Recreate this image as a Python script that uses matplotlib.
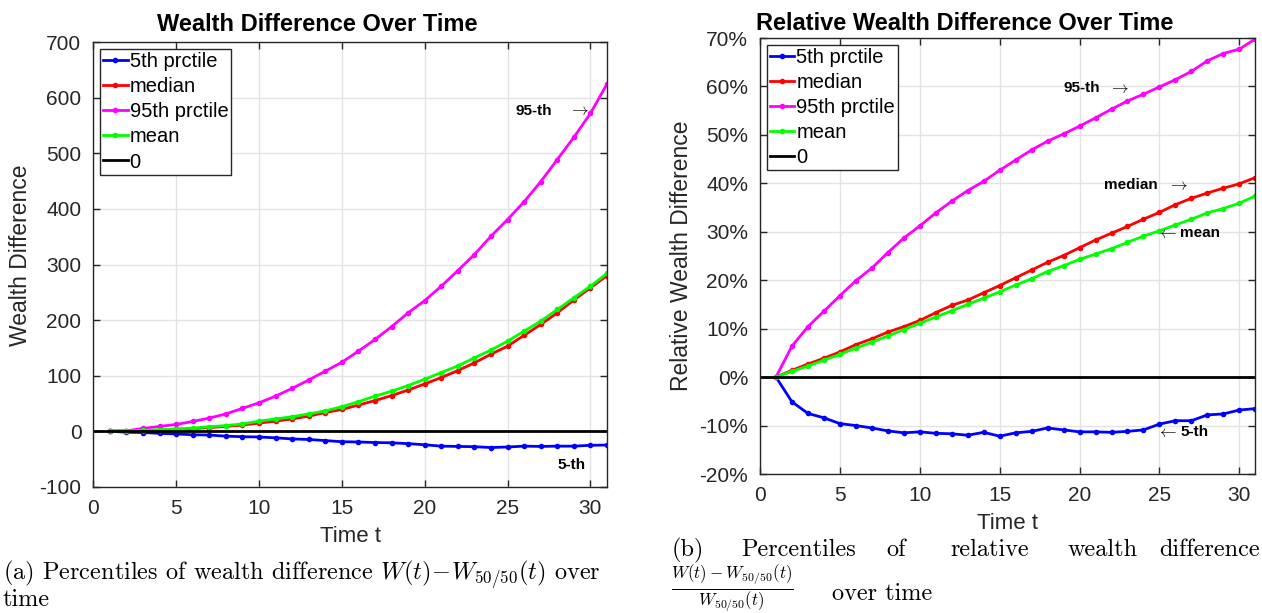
import matplotlib
matplotlib.use('Agg')
import matplotlib.pyplot as plt
import numpy as np

# time steps
t = np.arange(1, 32)

# (a) wealth difference W(t) - W_50/50(t)
abs_p5 = [0, -2, -2.5, -4, -5, -6.5, -7, -9, -10, -10.5, -12, -14, -15, -17, -19, -19.5,
          -20.5, -21, -22.5, -24.5, -27, -27.5, -28, -29.5, -28.5, -27, -27.5, -27, -27, -25.5, -25]
abs_med = [0, 0.2, 0.5, 1.5, 3, 4.5, 6.5, 8.5, 11, 14.5, 18, 22, 27, 33.5, 39, 47,
           55, 64, 74, 85, 96.5, 109, 123, 138.5, 153, 172.5, 192, 213, 236, 258, 280]
abs_p95 = [0, 0.5, 5, 8.5, 12, 17.5, 23.5, 31, 41, 51, 63, 77, 92, 108, 124, 144,
           165, 188, 213, 235, 261, 289, 318, 351, 381, 413, 449, 489, 529, 572, 625]
abs_mean = [0, 0.5, 1.5, 2.5, 4, 5.5, 8, 10, 13, 18, 22, 26, 31, 36.5, 44, 53,
            63, 72, 82, 93.5, 105.5, 117.5, 132, 146, 162, 180, 198, 219, 240, 261, 284]

# (b) relative wealth difference, in %
rel_p5 = [0, -5.1, -7.5, -8.4, -9.6, -10.0, -10.5, -11.1, -11.5, -11.3, -11.6, -11.7, -12.0,
          -11.4, -12.2, -11.5, -11.2, -10.5, -10.9, -11.3, -11.3, -11.4, -11.2, -10.9, -9.7,
          -9.0, -9.0, -7.8, -7.6, -6.8, -6.5]
rel_med = [0, 1.4, 2.7, 3.9, 5.2, 6.7, 7.9, 9.3, 10.4, 11.7, 13.3, 14.8, 15.9, 17.4, 18.9,
           20.5, 22.1, 23.7, 25.1, 26.7, 28.3, 29.7, 31.1, 32.6, 34.0, 35.6, 36.9, 38.0, 39.0,
           39.9, 41.2]
rel_p95 = [0, 6.4, 10.4, 13.6, 16.8, 19.9, 22.5, 25.7, 28.7, 31.2, 33.9, 36.3, 38.5, 40.4,
           42.7, 44.8, 46.9, 48.7, 50.2, 51.8, 53.5, 55.3, 57.0, 58.4, 59.9, 61.4, 63.1, 65.3,
           66.8, 67.7, 69.8]
rel_mean = [0, 1.2, 2.3, 3.5, 4.7, 6.0, 7.2, 8.5, 9.8, 11.1, 12.4, 13.7, 15.0, 16.3, 17.6,
            19.0, 20.3, 21.8, 23.0, 24.3, 25.4, 26.5, 27.8, 29.1, 30.2, 31.4, 32.6, 33.9, 34.8,
            35.9, 37.4]

labels = ['5th prctile', 'median', '95th prctile', 'mean']
colors = ['#0000FF', '#FF0000', '#FF00FF', '#00FF00']

plt.rcParams['font.family'] = ['Liberation Sans', 'DejaVu Sans']
plt.rcParams['mathtext.fontset'] = 'cm'

AX_COLOR = '#262626'
W, H = 1262, 613


def style_axes(ax):
    ax.grid(True, color='#e3e3e3', linewidth=1.0)
    ax.set_axisbelow(True)
    ax.tick_params(direction='in', top=True, right=True, length=5,
                   labelsize=15, colors=AX_COLOR, width=1, pad=8.5)
    for s in ax.spines.values():
        s.set_color(AX_COLOR)
        s.set_linewidth(1.0)


def draw_series(ax, series):
    for ys, lab, col in zip(series, labels, colors):
        ax.plot(t, ys, color=col, lw=2, marker='.', ms=6, label=lab)
    ax.plot([0, 31], [0, 0], color='black', lw=2, label='0')
    leg = ax.legend(loc='upper left', fontsize=14.5, handlelength=1.2,
                    handletextpad=0.1, labelspacing=0.3, borderpad=0.15,
                    borderaxespad=0.35, fancybox=False, framealpha=1)
    leg.get_frame().set_edgecolor(AX_COLOR)
    leg.get_frame().set_linewidth(1.0)


def arrow(ax, x, y, sym):
    ax.text(x, y, sym, fontsize=12, ha='center', va='center')


fig = plt.figure(figsize=(W / 100, H / 100), dpi=100)

# ---- left panel
ax1 = fig.add_axes([93.3 / W, 1 - 486.7 / H, 513.7 / W, 444.4 / H])
draw_series(ax1, [abs_p5, abs_med, abs_p95, abs_mean])
ax1.set_xlim(0, 31)
ax1.set_ylim(-100, 700)
ax1.set_xticks([0, 5, 10, 15, 20, 25, 30])
ax1.set_yticks(np.arange(-100, 701, 100))
ax1.set_yticklabels([str(v) for v in range(-100, 701, 100)])
style_axes(ax1)
ax1.set_xlabel('Time t', fontsize=16, color=AX_COLOR, labelpad=6)
ax1.set_ylabel('Wealth Difference', fontsize=16.5, color=AX_COLOR)
ax1.yaxis.set_label_coords(-0.119, 0.52)
ax1.text(25.5, 577, '95-th', fontsize=11, fontweight='bold', va='center')
arrow(ax1, 29.3, 577, r'$\rightarrow$')
ax1.text(28.0, -61, '5-th', fontsize=11, fontweight='bold', va='center')
fig.text(317 / W, 1 - 31 / H, 'Wealth Difference Over Time', fontsize=17,
         fontweight='bold', ha='center', va='baseline')

# ---- right panel
ax2 = fig.add_axes([760 / W, 1 - 474 / H, 495.3 / W, 436 / H])
draw_series(ax2, [rel_p5, rel_med, rel_p95, rel_mean])
ax2.set_xlim(0, 31)
ax2.set_ylim(-20, 70)
ax2.set_xticks([0, 5, 10, 15, 20, 25, 30])
ax2.set_yticks(np.arange(-20, 71, 10))
ax2.set_yticklabels(['%d%%' % v for v in range(-20, 71, 10)])
style_axes(ax2)
ax2.set_xlabel('Time t', fontsize=16, color=AX_COLOR, labelpad=6)
ax2.set_ylabel('Relative Wealth Difference', fontsize=16.5, color=AX_COLOR)
ax2.yaxis.set_label_coords(-0.135, 0.5)
ax2.text(19.0, 59.6, '95-th', fontsize=11, fontweight='bold', va='center')
arrow(ax2, 22.5, 59.6, r'$\rightarrow$')
ax2.text(21.5, 39.6, 'median', fontsize=11, fontweight='bold', va='center')
arrow(ax2, 26.2, 39.6, r'$\rightarrow$')
arrow(ax2, 25.5, 29.7, r'$\leftarrow$')
ax2.text(26.3, 29.7, 'mean', fontsize=11, fontweight='bold', va='center')
arrow(ax2, 25.5, -11.4, r'$\leftarrow$')
ax2.text(26.3, -11.4, '5-th', fontsize=11, fontweight='bold', va='center')
fig.text(965 / W, 1 - 29.5 / H, 'Relative Wealth Difference Over Time', fontsize=17,
         fontweight='bold', ha='center', va='baseline')

# ---- captions
cap = dict(fontsize=17.5, family='cmr10')
fig.text(3 / W, 1 - 611 / H,
         '(a) Percentiles of wealth difference $W(t)\\!-\\!W_{50/50}(t)$ over\ntime',
         va='bottom', linespacing=0.9, **cap)
for word, px in [('(b)', 672), ('Percentiles', 741), ('of', 886), ('relative', 950),
                 ('wealth', 1068)]:
    fig.text(px / W, 1 - 550 / H, word, va='center', **cap)
fig.text(1260 / W, 1 - 550 / H, 'difference', ha='right', va='center', **cap)
fig.text(671 / W, 1 - 589 / H,
         r'$\frac{W(t)-W_{50/50}(t)}{W_{50/50}(t)}$', fontsize=17.5, va='center')
fig.text(832 / W, 1 - 594 / H, 'over time', va='center', **cap)

fig.savefig('out.png', dpi=100)
